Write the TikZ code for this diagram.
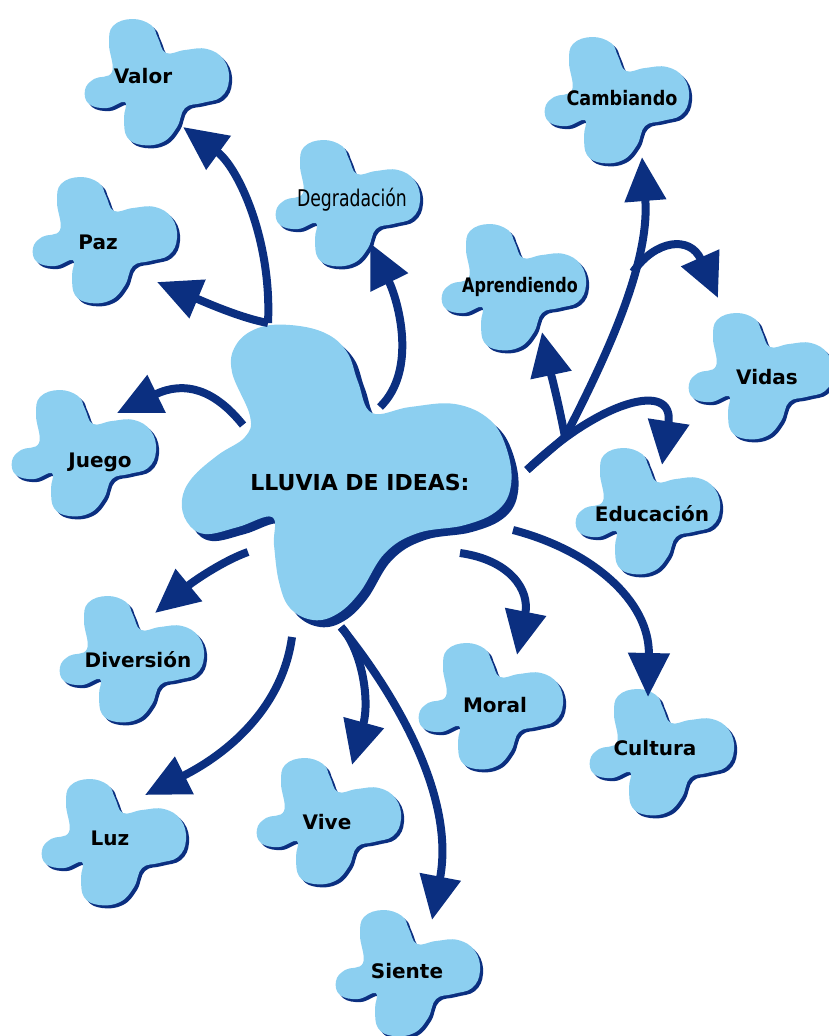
\documentclass[tikz,border=0pt]{standalone}
\usepackage{fontspec}
\setmainfont{DejaVu Sans}
\usetikzlibrary{arrows.meta}
\definecolor{blobc}{HTML}{8CCFF0}
\definecolor{darkc}{HTML}{0B2F80}
\tikzset{
  lbl/.style={font=\bfseries\fontsize{20}{24}\selectfont, text=black, inner sep=0pt},
  biglbl/.style={font=\bfseries\fontsize{22}{26}\selectfont, text=black, inner sep=0pt},
  conn/.style={draw=darkc, line width=8pt, -{Triangle[length=44pt,width=40pt]}},
  seg/.style={draw=darkc, line width=8pt},
  smallblob/.pic={
    \foreach \d/\c in {3/darkc,0/blobc}{
      \fill[\c, shift={(\d,\d)}] plot[smooth cycle, tension=0.7] coordinates {
        (-48,-38) (-44,-56) (-25,-63) (-6,-57) (1,-44) (9,-29) (28,-32) (50,-33)
        (67,-22) (72,-2) (64,15) (45,21) (28,26) (20,45) (6,60) (-15,63)
        (-30,55) (-33,36) (-32,20) (-50,26) (-68,22) (-72,8) (-63,-3) (-45,-10)};
    }
  }
}
\begin{document}
\begin{tikzpicture}[x=1pt,y=-1pt]
\useasboundingbox (0,0) rectangle (829,1036);
% central blob
\foreach \d/\c in {7/darkc,0/blobc}{
  \fill[\c, shift={(\d,\d)}] plot[smooth cycle, tension=0.65] coordinates {
    (232,372) (236,345) (258,328) (290,325) (325,333) (347,352) (358,382) (372,413)
    (410,407) (455,404) (490,420) (507,450) (511,485) (498,510) (465,525) (418,533)
    (385,553) (360,592) (337,614) (313,620) (290,608) (279,582) (274,545) (272,517)
    (238,527) (205,534) (187,522) (182,500) (192,478) (218,455) (245,437) (250,416)};
}
% small blobs
\pic at (157,82) {smallblob};
\pic at (105,240) {smallblob};
\pic at (348,203) {smallblob};
\pic at (84,453) {smallblob};
\pic at (617,100) {smallblob};
\pic at (514,287) {smallblob};
\pic at (761,376) {smallblob};
\pic at (648,511) {smallblob};
\pic at (491,706) {smallblob};
\pic at (662,752) {smallblob};
\pic at (132,659) {smallblob};
\pic at (114,842) {smallblob};
\pic at (329,821) {smallblob};
\pic at (408,973) {smallblob};
% labels
\node[biglbl] (center) at (360,482) {LLUVIA DE IDEAS:};
\node[lbl] (valor) at (143,76) {Valor};
\node[lbl] (paz) at (98,242) {Paz};
\node[lbl, font=\fontsize{23}{26}\selectfont] (degr) at (352,200) {\scalebox{0.75}[1]{Degradación}};
\node[lbl] (juego) at (100,462) {Juego};
\node[lbl] (camb) at (622,98) {\scalebox{0.88}[1]{Cambiando}};
\node[lbl] (apre) at (520,287) {\scalebox{0.8}[1]{Aprendiendo}};
\node[lbl] (vidas) at (767,377) {Vidas};
\node[lbl] (educ) at (652,514) {Educación};
\node[lbl] (moral) at (495,705) {Moral};
\node[lbl] (cultura) at (655,748) {Cultura};
\node[lbl] (diver) at (138,660) {Diversión};
\node[lbl] (luz) at (110,838) {Luz};
\node[lbl] (vive) at (327,822) {Vive};
\node[lbl] (siente) at (407,971) {Siente};
% connector coordinates
\coordinate (sUL) at (268,323);
\coordinate (tValor) at (183,127);
\coordinate (tPaz) at (157,282);
\coordinate (sDeg) at (380,407);
\coordinate (tDeg) at (370,243);
\coordinate (sJue) at (243,425);
\coordinate (tJue) at (117,413);
\coordinate (sDiv) at (248,552);
\coordinate (tDiv) at (155,613);
\coordinate (sLuz) at (292,637);
\coordinate (tLuz) at (145,795);
\coordinate (sBot) at (341,627);
\coordinate (tViv) at (352,765);
\coordinate (tSie) at (432,920);
\coordinate (sMor) at (460,553);
\coordinate (tMor) at (517,655);
\coordinate (sCul) at (513,530);
\coordinate (tCul) at (648,697);
\coordinate (fO) at (527,470);
\coordinate (fJ) at (565,437);
\coordinate (tApr) at (542,332);
\coordinate (tCam) at (642,157);
\coordinate (bVid) at (633,272);
\coordinate (tVid) at (718,298);
\coordinate (tEdu) at (662,465);
% connectors
\draw[conn] (sUL) .. controls (272,240) and (238,167) .. (tValor);
\draw[conn] (sUL) .. controls (240,318) and (200,300) .. (tPaz);
\draw[conn] (sDeg) .. controls (418,370) and (398,300) .. (tDeg);
\draw[conn] (sJue) .. controls (215,390) and (185,380) .. (tJue);
\draw[conn] (sDiv) .. controls (225,560) and (195,580) .. (tDiv);
\draw[conn] (sLuz) .. controls (282,710) and (225,755) .. (tLuz);
\draw[conn] (sBot) .. controls (362,650) and (370,700) .. (tViv);
\draw[conn] (sBot) .. controls (400,700) and (455,800) .. (tSie);
\draw[conn] (sMor) .. controls (510,560) and (530,590) .. (tMor);
\draw[conn] (sCul) .. controls (590,550) and (650,600) .. (tCul);
\draw[seg] (fO) -- (fJ);
\draw[conn] (fJ) .. controls (558,400) and (550,370) .. (tApr);
\draw[conn] (fJ) .. controls (610,350) and (650,260) .. (tCam);
\draw[conn] (bVid) .. controls (655,240) and (690,235) .. (tVid);
\draw[conn] (fO) .. controls (600,400) and (675,380) .. (tEdu);
\end{tikzpicture}
\end{document}
